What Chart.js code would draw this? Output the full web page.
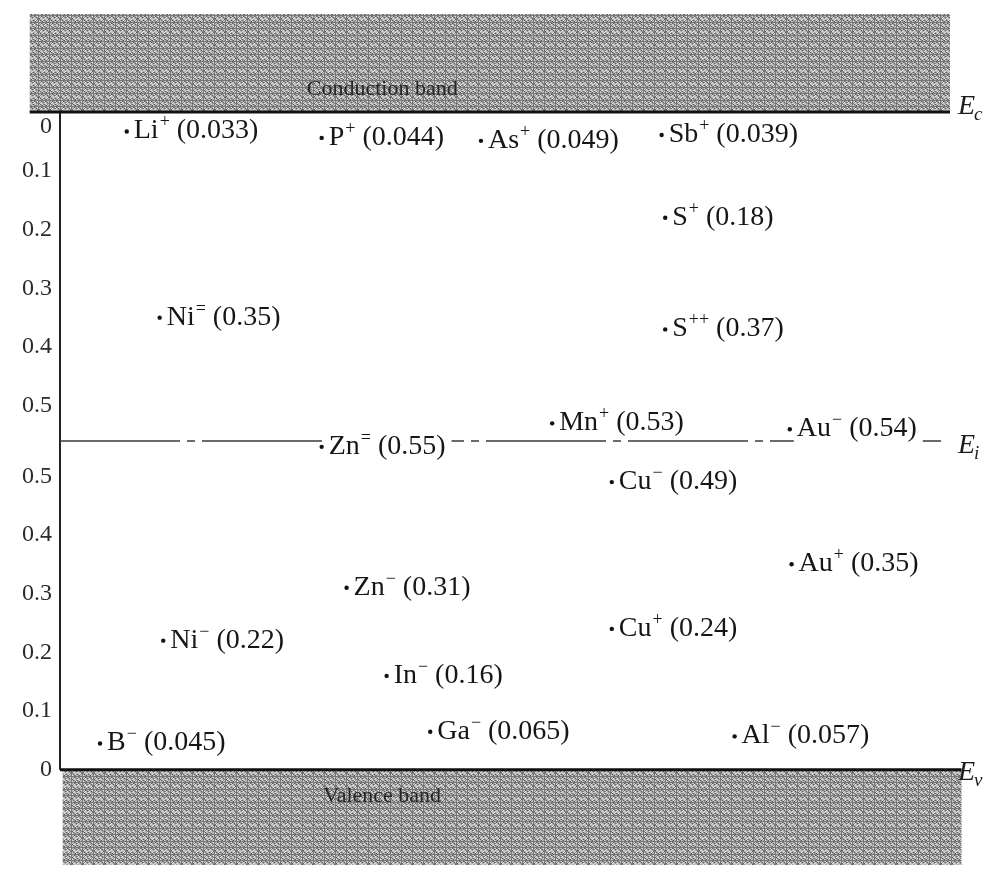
<!DOCTYPE html>
<html>
<head>
<meta charset="utf-8">
<script src="https://cdn.jsdelivr.net/npm/chart.js@4.4.1/dist/chart.umd.min.js"></script>
<style>
  html, body { margin: 0; padding: 0; background: #fff; }
  #wrap { width: 1004px; height: 873px; }
</style>
</head>
<body>
<div id="wrap"><canvas id="levels"></canvas></div>
<script>
// Si band gap (eV) and midgap level, energies measured upward from Ev
const bandGap = 1.12;
const intrinsic = 0.56;

// impurity levels: name, charge, ionisation energy (eV), edge it is measured from, column
const impurities   = ["Li", "P", "As", "Sb", "S", "S", "Ni", "Mn", "Au", "Zn", "Cu", "Au", "Zn", "Cu", "Ni", "In", "Ga", "Al", "B"];
const charges      = ["+", "+", "+", "+", "+", "++", "=", "+", "\u2212", "=", "\u2212", "+", "\u2212", "+", "\u2212", "\u2212", "\u2212", "\u2212", "\u2212"];
const energies     = [0.033, 0.044, 0.049, 0.039, 0.18, 0.37, 0.35, 0.53, 0.54, 0.55, 0.49, 0.35, 0.31, 0.24, 0.22, 0.16, 0.065, 0.057, 0.045];
const measuredFrom = ["c", "c", "c", "c", "c", "c", "c", "c", "c", "v", "v", "v", "v", "v", "v", "v", "v", "v", "v"];
const columns      = [7.5, 29.4, 47.3, 67.6, 68, 68, 11.2, 55.3, 82, 29.4, 62, 82.2, 32.2, 62, 11.6, 36.7, 41.6, 75.8, 4.5];

// axis: distance from Ec in the upper half, from Ev in the lower half
const tickValues = [0, 0.1, 0.2, 0.3, 0.4, 0.5, 0.62, 0.72, 0.82, 0.92, 1.02, 1.12];
const tickLabels = ["0", "0.1", "0.2", "0.3", "0.4", "0.5", "0.5", "0.4", "0.3", "0.2", "0.1", "0"];

const edgeLevels = [bandGap, intrinsic, 0];
const edgeSubs   = ["c", "i", "v"];

const SERIF = '"Liberation Serif", "Times New Roman", serif';

// grainy grey fill like the printed screen tone
function stipple(ctx) {
  const c = document.createElement("canvas");
  c.width = 11; c.height = 13;
  const g = c.getContext("2d");
  const shades = ["#5c5c5c", "#777777", "#8c8c8c", "#a2a2a2", "#b6b6b6", "#cacaca", "#dedede"];
  for (let i = 0; i < 11; i++) {
    for (let j = 0; j < 13; j++) {
      g.fillStyle = shades[(i * 73 + j * 151 + i * j * 37) % 7];
      g.fillRect(i, j, 1, 1);
    }
  }
  return ctx.createPattern(c, "repeat");
}

const bands = {
  id: "bands",
  beforeDatasetsDraw(chart) {
    const { ctx, scales: { x, y } } = chart;
    const top = y.getPixelForValue(y.max), ec = y.getPixelForValue(bandGap);
    const ev = y.getPixelForValue(0), bottom = y.getPixelForValue(y.min);
    const cl = x.getPixelForValue(-3.4), cr = x.getPixelForValue(100);
    const vl = x.getPixelForValue(0.3), vr = x.getPixelForValue(101.3);
    const ax = x.getPixelForValue(0);
    ctx.save();
    ctx.fillStyle = stipple(ctx);
    ctx.fillRect(cl, top, cr - cl, ec - top);
    ctx.fillRect(vl, ev, vr - vl, bottom - ev);
    // energy axis between the band edges
    ctx.strokeStyle = "#222";
    ctx.lineWidth = 2;
    ctx.beginPath();
    ctx.moveTo(ax, ec); ctx.lineTo(ax, ev);
    ctx.stroke();
    ctx.strokeStyle = "#111";
    ctx.lineWidth = 3;
    ctx.beginPath();
    ctx.moveTo(cl, ec); ctx.lineTo(cr, ec);
    ctx.moveTo(ax, ev); ctx.lineTo(vr, ev);
    ctx.stroke();
    ctx.font = "22px " + SERIF;
    ctx.fillStyle = "#262626";
    ctx.textAlign = "center";
    ctx.fillText("Conduction band", x.getPixelForValue(36.2), ec - 17);
    ctx.fillText("Valence band", x.getPixelForValue(36.2), ev + 32);
    ctx.restore();
  }
};

const tags = {
  id: "tags",
  afterDatasetsDraw(chart) {
    const { ctx } = chart;
    const eiPx = chart.scales.y.getPixelForValue(intrinsic);
    const main = "28px " + SERIF, small = "18px " + SERIF;
    ctx.save();
    chart.getDatasetMeta(0).data.forEach((pt, i) => {
      let x = pt.x + 7;
      const base = pt.y + 7;
      const tail = " (" + energies[i] + ")";
      ctx.font = main; const w1 = ctx.measureText(impurities[i]).width;
      ctx.font = small; const w2 = ctx.measureText(charges[i]).width;
      ctx.font = main; const w3 = ctx.measureText(tail).width;
      if (Math.abs(pt.y - eiPx) < 12) {
        ctx.fillStyle = "#fff";
        ctx.fillRect(x - 3, base - 22, w1 + w2 + w3 + 10, 30);
      }
      ctx.fillStyle = "#161616";
      ctx.font = main; ctx.fillText(impurities[i], x, base); x += w1 + 1;
      ctx.font = small; ctx.fillText(charges[i], x, base - 11); x += w2;
      ctx.font = main; ctx.fillText(tail, x, base);
    });
    ctx.restore();
  }
};

const edges = {
  id: "edges",
  afterDraw(chart) {
    const { ctx, chartArea, scales: { y } } = chart;
    const drop = [2, 12, 10];
    ctx.save();
    ctx.fillStyle = "#1c1c1c";
    edgeLevels.forEach((lv, i) => {
      const base = y.getPixelForValue(lv) + drop[i];
      const x = chartArea.right + 8;
      ctx.font = "italic 28px " + SERIF;
      ctx.fillText("E", x, base);
      const w = ctx.measureText("E").width;
      ctx.font = "italic 19px " + SERIF;
      ctx.fillText(edgeSubs[i], x + w - 1, base + 6);
    });
    ctx.restore();
  }
};

const levelPoints = energies.map((e, i) => ({
  x: columns[i],
  y: measuredFrom[i] === "c" ? bandGap - e : e
}));

new Chart(document.getElementById("levels"), {
  type: "scatter",
  data: {
    datasets: [
      {
        data: levelPoints,
        pointRadius: 2.2,
        pointBackgroundColor: "#111",
        pointBorderWidth: 0
      },
      {
        type: "line",
        data: [{ x: 0, y: intrinsic }, { x: 99, y: intrinsic }],
        borderColor: "#3a3a3a",
        borderWidth: 1.6,
        borderDash: [120, 7, 8, 7],
        pointRadius: 0,
        fill: false
      }
    ]
  },
  options: {
    responsive: true,
    maintainAspectRatio: false,
    animation: false,
    layout: { padding: { top: 14, bottom: 8, right: 54, left: 0 } },
    plugins: { legend: { display: false }, tooltip: { enabled: false } },
    scales: {
      x: { type: "linear", min: 0, max: 100, display: false },
      y: {
        type: "linear",
        min: -0.162,
        max: 1.287,
        grid: { display: false, drawTicks: false },
        border: { display: false },
        afterBuildTicks: s => { s.ticks = tickValues.map(v => ({ value: v })); },
        afterFit: s => { s.width = 60; s.paddingTop = 0; s.paddingBottom = 0; },
        ticks: {
          padding: 8,
          color: "#2a2a2a",
          font: { family: SERIF, size: 24 },
          // the Ec zero sits just under the band edge
          callback: (v, i) => (i === tickValues.length - 1 ? ["", tickLabels[i]] : tickLabels[i])
        }
      }
    }
  },
  plugins: [bands, tags, edges]
});
</script>
</body>
</html>
